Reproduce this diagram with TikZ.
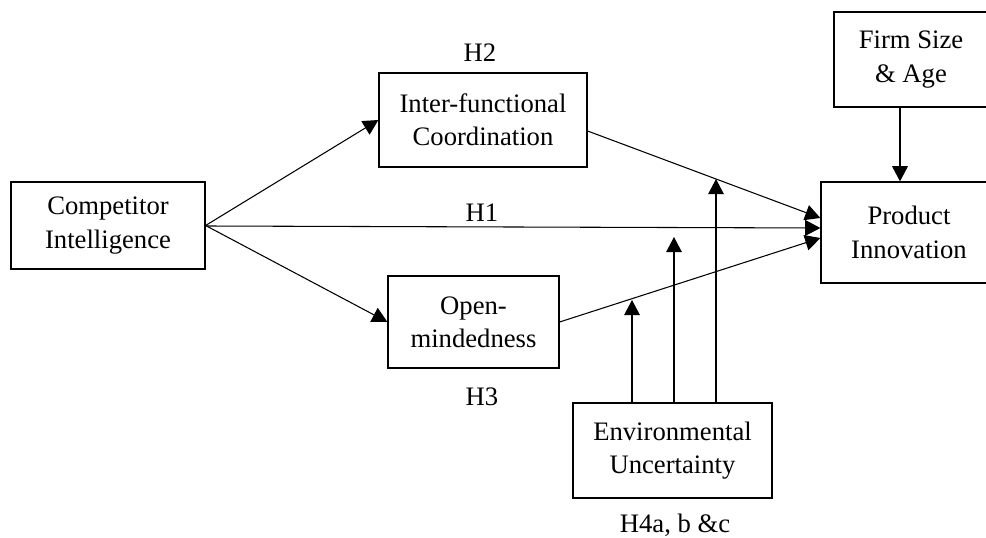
\documentclass[tikz,border=0pt]{standalone}
\usepackage{fontspec}
\setmainfont{Liberation Serif}
\usetikzlibrary{arrows.meta,calc}
\tikzset{
  box/.style={draw, line width=0.9pt, align=center, inner sep=0pt,
    font=\fontsize{20}{25}\selectfont},
  arr/.style={line width=0.8pt, -{Triangle[length=11.4pt,width=11.8pt]}},
  hlab/.style={font=\fontsize{20}{25}\selectfont, inner sep=0pt},
}
\begin{document}
\begin{tikzpicture}[x=0.75pt,y=-0.75pt]
\useasboundingbox (0,0) rectangle (986,538);
\clip (0,0) rectangle (986,538);
% boxes
\node[box, minimum width=194*0.75pt, minimum height=87*0.75pt] (CI) at (108,225.5) {Competitor\\Intelligence};
\node[box, minimum width=208*0.75pt, minimum height=94*0.75pt] (IC) at (483,120) {Inter-functional\\Coordination};
\node[box, minimum width=171*0.75pt, minimum height=92*0.75pt] (OM) at (473.5,322) {Open-\\mindedness};
\node[box, minimum width=154*0.75pt, minimum height=95*0.75pt] (FS) at (911,59.5) {Firm Size\\\& Age};
\node[box, minimum width=176*0.75pt, minimum height=101*0.75pt] (PI) at (909,232.5) {Product\\Innovation};
\node[box, minimum width=199*0.75pt, minimum height=95*0.75pt] (EU) at (672.5,450.5) {Environmental\\Uncertainty};
% labels
\node[hlab] (H2) at (480,53) {H2};
\node[hlab] (H1) at (482,213) {H1};
\node[hlab] (H3) at (482,397) {H3};
\node[hlab] (H4) at (675,525) {H4a, b \&c};
% main arrows
\draw[arr] (CI.east) -- (IC.west);
\draw[arr] (CI.east) -- (OM.west);
\draw[arr] ($(CI.east)+(0,0.5)$) -- ($(PI.west)+(0,-4.5)$);
\draw[arr] ($(IC.east)+(0,11)$) -- ($(PI.west)+(0,-14.5)$);
\draw[arr] (OM.east) -- ($(PI.west)+(0,5.5)$);
\draw[arr] ($(FS.south)+(-11,0)$) -- ($(PI.north)+(-9,0)$);
% moderation arrows
\coordinate (ta) at (632,300);
\coordinate (tb) at (674,237);
\coordinate (tc) at (716,179);
\draw[arr] (EU.north -| ta) -- (ta);
\draw[arr] (EU.north -| tb) -- (tb);
\draw[arr] (EU.north -| tc) -- (tc);
\end{tikzpicture}
\end{document}
